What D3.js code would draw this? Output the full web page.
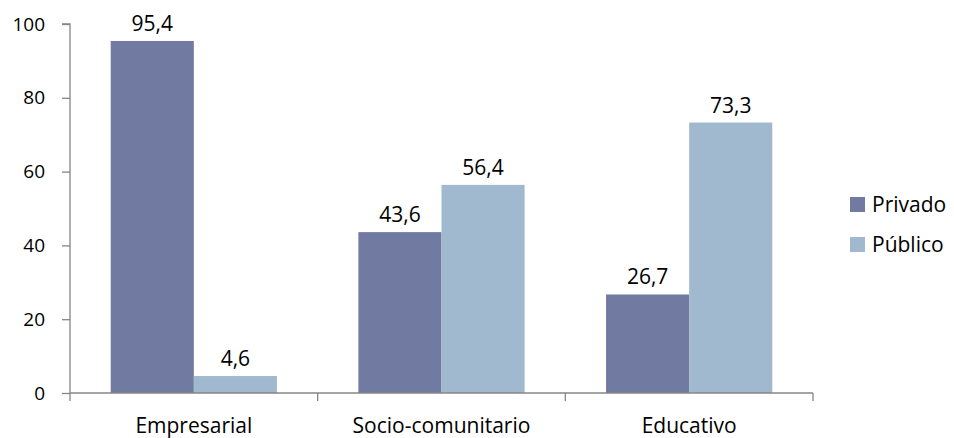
<!DOCTYPE html>
<html>
<head>
<meta charset="utf-8">
<script src="https://cdn.jsdelivr.net/npm/d3@7"></script>
<style>
  html, body { margin: 0; padding: 0; background: #fff; }
  svg text { font-family: "Open Sans", "Noto Sans", sans-serif; fill: #000; }
</style>
</head>
<body>
<svg id="chart" width="954" height="438"></svg>
<script>
// Sector distribution (%) by type of organisation
const categories = ["Empresarial", "Socio-comunitario", "Educativo"];
const seriesNames = ["Privado", "Público"];
const privado = [95.4, 43.6, 26.7];
const publico = [4.6, 56.4, 73.3];
const yTicks = [0, 20, 40, 60, 80, 100];

const colors = { "Privado": "#717aa0", "Público": "#a1b9cf" };
const seriesValues = { "Privado": privado, "Público": publico };

const svg = d3.select("#chart");
const margin = { left: 70, right: 141, top: 24, bottom: 45 };
const W = 954, H = 438;
const x0 = margin.left, x1 = W - margin.right;
const yTop = margin.top, yBot = H - margin.bottom;

const x = d3.scaleBand().domain(categories).range([x0, x1]).paddingInner(0).paddingOuter(0);
const xs = d3.scaleBand().domain(seriesNames).range([0, x.bandwidth()]).paddingInner(0).paddingOuter(0.49);
const y = d3.scaleLinear().domain([0, 100]).range([yBot, yTop]);

const fmt = v => String(v).replace(".", ",");

// Bars with value labels
categories.forEach((cat, i) => {
  seriesNames.forEach(s => {
    const v = seriesValues[s][i];
    svg.append("rect")
      .attr("x", x(cat) + xs(s))
      .attr("y", y(v))
      .attr("width", xs.bandwidth())
      .attr("height", y(0) - y(v))
      .attr("fill", colors[s]);
    svg.append("text")
      .attr("x", x(cat) + xs(s) + xs.bandwidth() / 2)
      .attr("y", y(v) - 10)
      .attr("text-anchor", "middle")
      .attr("font-size", 21)
      .text(fmt(v));
  });
});

// Y axis
const yAxis = d3.axisLeft(y).tickValues(yTicks).tickSize(8).tickPadding(17).tickFormat(d3.format("d"));
const gy = svg.append("g").attr("transform", `translate(${x0},0)`).call(yAxis);
gy.select(".domain").attr("stroke", "#868686").attr("stroke-width", 1.3).attr("d", `M-8,${yTop}H0V${yBot}`);
gy.selectAll(".tick line").attr("stroke", "#868686").attr("stroke-width", 1.3);
gy.selectAll(".tick text").attr("font-size", 19).attr("font-family", '"Open Sans", sans-serif').attr("fill", "#000");

// X axis with ticks at category boundaries
const gx = svg.append("g").attr("transform", `translate(0,${yBot})`);
gx.append("line").attr("x1", x0).attr("x2", x1).attr("stroke", "#868686").attr("stroke-width", 1.3);
const bounds = categories.map(c => x(c)).concat([x1]);
gx.selectAll("line.tk").data(bounds).enter().append("line")
  .attr("class", "tk")
  .attr("x1", d => d).attr("x2", d => d).attr("y1", 0).attr("y2", 8)
  .attr("stroke", "#868686").attr("stroke-width", 1.3);
gx.selectAll("text.cat").data(categories).enter().append("text")
  .attr("class", "cat")
  .attr("x", d => x(d) + x.bandwidth() / 2)
  .attr("y", 40)
  .attr("text-anchor", "middle")
  .attr("font-size", 21)
  .text(d => d);

// Legend
const legend = svg.append("g").attr("transform", "translate(850,197)");
seriesNames.forEach((s, i) => {
  const g = legend.append("g").attr("transform", `translate(0,${i * 40})`);
  g.append("rect").attr("width", 15).attr("height", 15).attr("fill", colors[s]);
  g.append("text").attr("x", 22).attr("y", 15).attr("font-size", 21).text(s);
});
</script>
</body>
</html>
